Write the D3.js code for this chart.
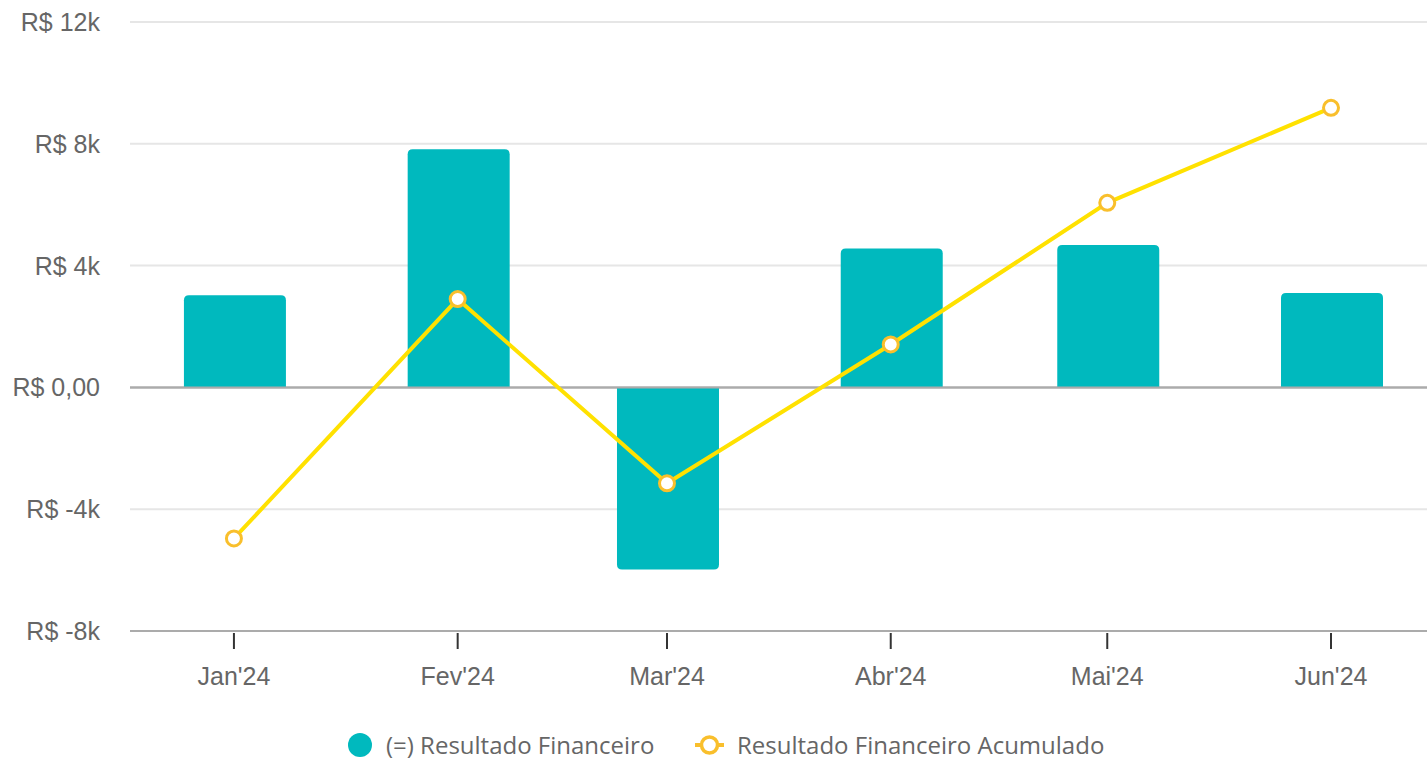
<!DOCTYPE html>
<html>
<head>
<meta charset="utf-8">
<script src="https://cdn.jsdelivr.net/npm/d3@7"></script>
<style>
  body { margin: 0; background: #fff; }
  svg { display: block; }
</style>
</head>
<body>
<div id="chart"></div>
<script>
// data
var months = ["2024-01-01", "2024-02-01", "2024-03-01", "2024-04-01", "2024-05-01", "2024-06-01"];
var monthLabels = ["Jan'24", "Fev'24", "Mar'24", "Abr'24", "Mai'24", "Jun'24"];
var resultado = [3030, 7820, -5980, 4560, 4680, 3100];
var acumulado = [-4960, 2900, -3150, 1410, 6060, 9180];
var yTicks = [-8000, -4000, 0, 4000, 8000, 12000];
var seriesNames = ["(=) Resultado Financeiro", "Resultado Financeiro Acumulado"];

var W = 1427, H = 758;
var margin = { top: 22, right: 0, bottom: 127, left: 130 };
var width = W - margin.left - margin.right,
    height = H - margin.top - margin.bottom;

var parse = d3.timeParse("%Y-%m-%d");
var dates = months.map(parse);
var day = 864e5;

var svg = d3.select("#chart")
    .append("svg")
    .attr("width", W)
    .attr("height", H);

var g = svg.append("g")
    .attr("transform", "translate(" + margin.left + "," + margin.top + ")");

var x = d3.scaleTime()
    .domain([new Date(+dates[0] - 14.4 * day), new Date(+dates[5] + 13.3 * day)])
    .range([0, width]);

var y = d3.scaleLinear()
    .domain([-8000, 12000])
    .range([height, 0]);

var teal = "#00b9be", yellow = "#ffe100", marker = "#f9bf2c";
var axisFont = "'Liberation Sans', Arial, sans-serif";

// gridlines
g.selectAll("line.grid")
    .data(yTicks)
    .enter().append("line")
    .attr("class", "grid")
    .attr("x1", 0).attr("x2", width)
    .attr("y1", function (d) { return y(d); })
    .attr("y2", function (d) { return y(d); })
    .attr("stroke", function (d) { return (d === 0 || d === -8000) ? "#ababab" : "#e6e6e6"; })
    .attr("stroke-width", 2);

// y labels
function fmt(d) {
    if (d === 0) return "R$ 0,00";
    return "R$ " + (d / 1000) + "k";
}
g.selectAll("text.ylab")
    .data(yTicks)
    .enter().append("text")
    .attr("class", "ylab")
    .attr("x", -30)
    .attr("y", function (d) { return y(d); })
    .attr("dy", "0.36em")
    .attr("text-anchor", "end")
    .style("font-family", axisFont)
    .style("font-size", "25px")
    .style("fill", "#666")
    .text(fmt);

// x ticks + labels
g.selectAll("line.xtick")
    .data(dates)
    .enter().append("line")
    .attr("class", "xtick")
    .attr("x1", function (d) { return x(d); })
    .attr("x2", function (d) { return x(d); })
    .attr("y1", height + 2)
    .attr("y2", height + 18)
    .attr("stroke", "#333")
    .attr("stroke-width", 2);

g.selectAll("text.xlab")
    .data(dates)
    .enter().append("text")
    .attr("class", "xlab")
    .attr("x", function (d) { return x(d); })
    .attr("y", height + 54)
    .attr("text-anchor", "middle")
    .style("font-family", axisFont)
    .style("font-size", "25px")
    .style("fill", "#666")
    .text(function (d, i) { return monthLabels[i]; });

// bars, rounded at the far end
var barW = 102, r = 5;
function barPath(d, i) {
    var cx = x(dates[i]) + 1, x0 = cx - barW / 2, x1 = cx + barW / 2;
    var y0 = y(0), y1 = y(d);
    if (d >= 0) {
        return "M" + x0 + "," + y0 + "V" + (y1 + r) + "Q" + x0 + "," + y1 + " " + (x0 + r) + "," + y1 +
            "H" + (x1 - r) + "Q" + x1 + "," + y1 + " " + x1 + "," + (y1 + r) + "V" + y0 + "Z";
    }
    return "M" + x0 + "," + y0 + "V" + (y1 - r) + "Q" + x0 + "," + y1 + " " + (x0 + r) + "," + y1 +
        "H" + (x1 - r) + "Q" + x1 + "," + y1 + " " + x1 + "," + (y1 - r) + "V" + y0 + "Z";
}
g.selectAll("path.bar")
    .data(resultado)
    .enter().append("path")
    .attr("class", "bar")
    .attr("d", barPath)
    .attr("fill", teal);

// redraw zero line above bars
g.append("line")
    .attr("x1", 0).attr("x2", width)
    .attr("y1", y(0)).attr("y2", y(0))
    .attr("stroke", "#ababab")
    .attr("stroke-width", 2);

// cumulative line
var line = d3.line()
    .x(function (d, i) { return x(dates[i]); })
    .y(function (d) { return y(d); });

g.append("path")
    .datum(acumulado)
    .attr("d", line)
    .attr("fill", "none")
    .attr("stroke", yellow)
    .attr("stroke-width", 4);

g.selectAll("circle.pt")
    .data(acumulado)
    .enter().append("circle")
    .attr("class", "pt")
    .attr("cx", function (d, i) { return x(dates[i]); })
    .attr("cy", function (d) { return y(d); })
    .attr("r", 7.5)
    .attr("fill", "#fff")
    .attr("stroke", marker)
    .attr("stroke-width", 3);

// legend
var legend = svg.append("g").attr("transform", "translate(0,745)");
var legendFont = "'Open Sans', 'Noto Sans', sans-serif";

legend.append("circle")
    .attr("cx", 360).attr("cy", 0).attr("r", 12)
    .attr("fill", teal);
legend.append("text")
    .attr("x", 386).attr("y", 0).attr("dy", "0.36em")
    .style("font-family", legendFont)
    .style("font-size", "24px")
    .style("fill", "#666")
    .text(seriesNames[0]);

legend.append("line")
    .attr("x1", 695).attr("x2", 724)
    .attr("y1", 0).attr("y2", 0)
    .attr("stroke", marker).attr("stroke-width", 4);
legend.append("circle")
    .attr("cx", 709.5).attr("cy", 0).attr("r", 8)
    .attr("fill", "#fff")
    .attr("stroke", marker).attr("stroke-width", 3.5);
legend.append("text")
    .attr("x", 737).attr("y", 0).attr("dy", "0.36em")
    .style("font-family", legendFont)
    .style("font-size", "24px")
    .style("fill", "#666")
    .text(seriesNames[1]);
</script>
</body>
</html>
